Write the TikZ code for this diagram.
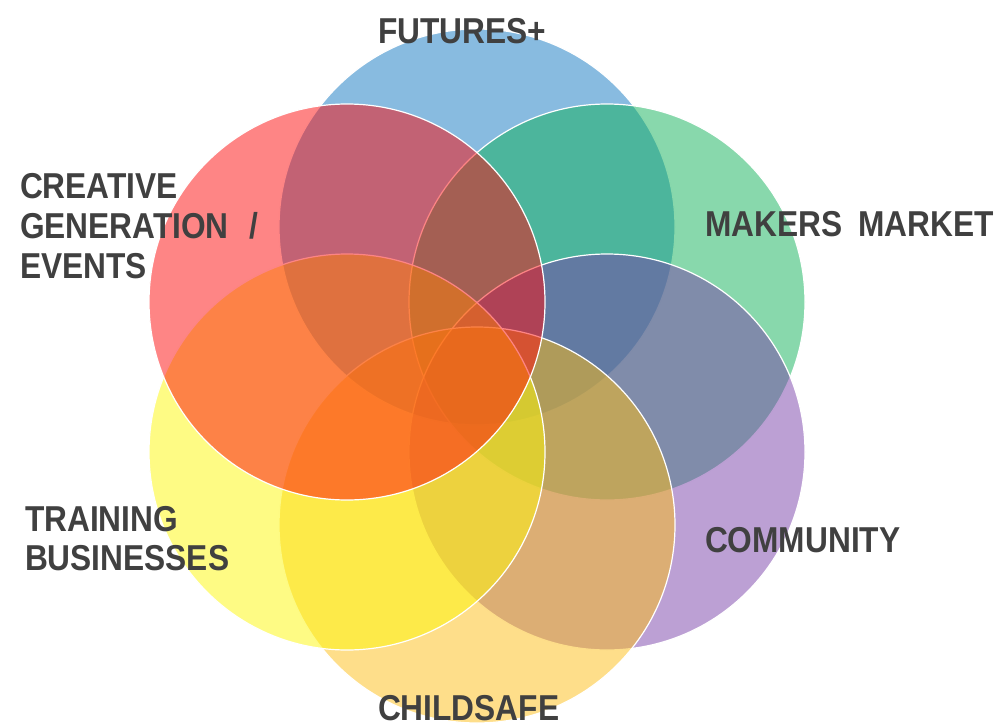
\documentclass[tikz,border=0pt]{standalone}
\usepackage{fontspec}
\newfontfamily\lblfont{Liberation Sans}[FakeStretch=0.88]
\definecolor{cblue}{RGB}{17,119,193}
\definecolor{cgreen}{RGB}{17,177,89}
\definecolor{cpurple}{RGB}{121,65,169}
\definecolor{ctan}{RGB}{253,189,21}
\definecolor{cyellow}{RGB}{253,247,9}
\definecolor{cred}{RGB}{253,11,11}
\definecolor{txtgray}{RGB}{64,64,64}
\tikzset{
  vennc/.style={circle, minimum size=396pt, inner sep=0pt, outer sep=0pt,
    draw=white, line width=1.2pt, fill opacity=0.5, draw opacity=1},
  lbl/.style={anchor=base west, inner sep=0pt, outer sep=0pt, text=txtgray,
    font=\lblfont\bfseries\fontsize{36}{40}\selectfont}
}
\begin{document}
\begin{tikzpicture}[x=1pt,y=-1pt]
\useasboundingbox (0,0) rectangle (998,725);
% circles, drawn in stacking order
\node[vennc, fill=cblue]   (futures)   at (477,227) {};
\node[vennc, fill=cgreen]  (makers)    at (607,302) {};
\node[vennc, fill=cpurple] (community) at (607,452) {};
\node[vennc, fill=ctan]    (childsafe) at (477,525) {};
\node[vennc, fill=cyellow] (training)  at (347,452) {};
\node[vennc, fill=cred]    (creative)  at (347,302) {};
% labels
\node[lbl] (lfut)  at (378,44)  {FUTURES+};
\node[lbl] (lcre1) at (20,198)  {CREATIVE};
\node[lbl] (lcre2) at (20,238)  {GENERATION\hspace{21pt}/};
\node[lbl] (lcre3) at (20,278)  {EVENTS};
\node[lbl] (lmak)  at (705,236) {MAKERS\hspace{16pt}MARKET};
\node[lbl] (ltra1) at (25,531)  {TRAINING};
\node[lbl] (ltra2) at (25,570)  {BUSINESSES};
\node[lbl] (lcom)  at (705,552) {COMMUNITY};
\node[lbl] (lchi)  at (378,720) {CHILDSAFE};
\end{tikzpicture}
\end{document}
